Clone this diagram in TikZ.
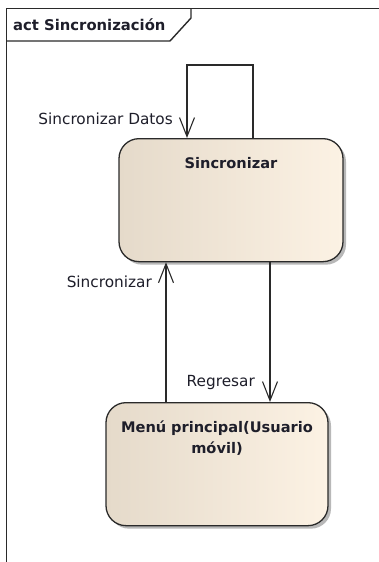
\documentclass[tikz,border=0pt]{standalone}
\usepackage{fontspec}
\setmainfont{DejaVu Sans}
\usetikzlibrary{arrows.meta,shadows}
\definecolor{boxl}{HTML}{E5DACA}
\definecolor{boxr}{HTML}{FCF2E4}
\definecolor{edge}{HTML}{2A2A2A}
\definecolor{txt}{HTML}{1E1E2A}
\tikzset{
  statebox/.style={rectangle, rounded corners=20pt, draw=edge, line width=1.3pt,
    left color=boxl, right color=boxr, inner sep=0pt, align=center,
    font=\fontsize{14.6}{21}\selectfont\bfseries, text=txt,
    drop shadow={shadow xshift=3pt, shadow yshift=-3pt, fill=black!35, opacity=0.8}},
  flow/.style={draw=edge, line width=1.1pt, -{Straight Barb[length=19pt,width=15pt,line width=1.1pt]}},
  flowlabel/.style={font=\fontsize{15.3}{18}\selectfont, text=txt, inner sep=0pt, anchor=east},
  framepen/.style={draw=edge, line width=1.4pt}
}
\begin{document}
\begin{tikzpicture}[x=1pt,y=-1pt]
\useasboundingbox (0,0) rectangle (379,562);
% frame
\draw[framepen] (379,8.5) -- (6.5,8.5) -- (6.5,562);
\draw[framepen] (6.5,41) -- (170,41) -- (191,18) -- (191,8.5);
\node[font=\fontsize{14.8}{17}\selectfont\bfseries, text=txt, anchor=west, inner sep=0pt] (title) at (13,25) {act Sincronización};
% states
\node[statebox, minimum width=224pt, text width=210pt, text height=30pt, text depth=93pt] (sync) at (231,138) [anchor=north] {Sincronizar};
\node[statebox, minimum width=222pt, text width=210pt, text height=29.5pt, text depth=93.5pt] (menu) at (217,402) [anchor=north] {Menú principal(Usuario\\ móvil)};
% connectors
\draw[flow] ([xshift=22pt]sync.north) -- ++(0,-73) coordinate (looptop) -| ([xshift=-44pt]sync.north);
\draw[flow] ([xshift=-51pt]menu.north) -- ([xshift=-51pt]menu.north |- sync.south);
\draw[flow] ([xshift=39pt]sync.south) -- ([xshift=39pt]sync.south |- menu.north);
% labels
\node[flowlabel] (l1) at (173,119) {Sincronizar Datos};
\node[flowlabel] (l2) at (152,282) {Sincronizar};
\node[flowlabel] (l3) at (255,383) {Regresar};
\end{tikzpicture}
\end{document}
